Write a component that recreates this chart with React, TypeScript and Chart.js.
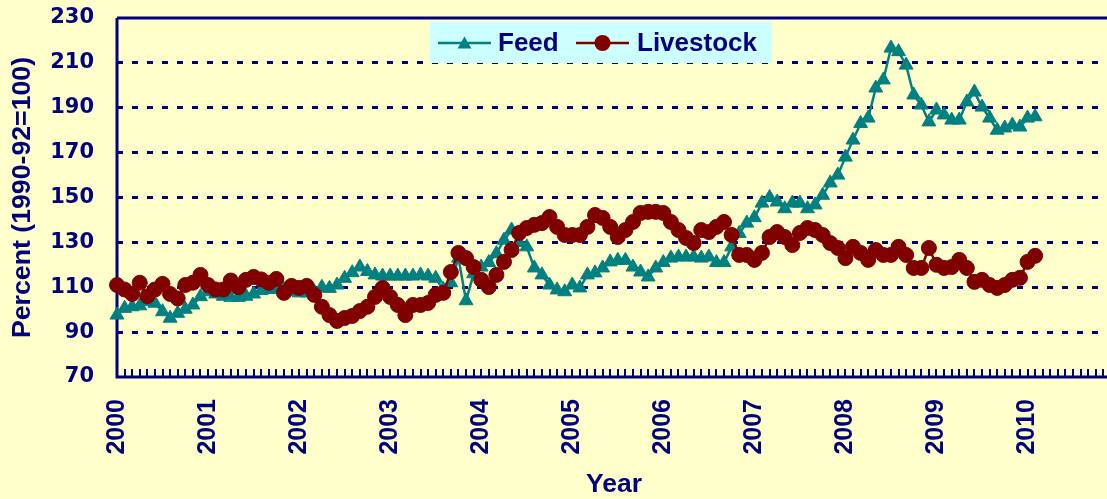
import React, { useEffect, useRef } from 'react';
import { Chart, registerables } from 'chart.js';

Chart.register(...registerables);

const NAVY = '#000080';
const BG = '#FFFFCC';
const LEGEND_BG = '#CCFFFF';
const FEED_COLOR = '#008080';
const LIVESTOCK_COLOR = '#800000';
const ARIAL = '"Liberation Sans", Arial, sans-serif';

const yearLabels = ['2000', '2001', '2002', '2003', '2004', '2005', '2006', '2007', '2008', '2009', '2010'];
const monthNames = ['Jan', 'Feb', 'Mar', 'Apr', 'May', 'Jun', 'Jul', 'Aug', 'Sep', 'Oct', 'Nov', 'Dec'];
const categories: string[] = [];
yearLabels.forEach((y) => monthNames.forEach((m) => categories.push(`${m} ${y}`)));

const feed = [
  97.6, 100.6, 101.3, 101.7, 103.6, 102.9, 99.1, 96.2, 98.4, 100.2, 102.1, 105.8,
  108, 107, 106, 105.5, 105.5, 106, 107, 108.5, 109, 109.5, 109, 108,
  107.5, 107.5, 108, 110, 109.5, 111, 114, 116.5, 119, 117, 115.5, 115,
  115, 115, 115, 115, 115.5, 115, 114, 109, 112, 123, 104, 116,
  119, 121, 125, 131, 135.5, 130, 128, 118.6, 115.5, 111, 108.8, 108,
  111, 109.7, 115.5, 116.4, 118.6, 121.3, 122, 122, 119, 116.8, 114.6, 118.6,
  121, 123, 123.5, 123.5, 123.5, 123, 123.5, 121, 121, 128, 134, 138.6,
  141, 147.5, 150, 148, 145, 147.5, 147.5, 145, 146.7, 151, 156.5, 160,
  168, 175.6, 183, 185.4, 198.8, 202.4, 216.6, 215, 209, 195.7, 191.2, 183.7,
  189, 186.8, 184.5, 184.5, 192.6, 197, 190.3, 185.4, 180, 181, 182.3, 181.4,
  185.4, 186,
];

const livestock = [
  111, 109, 107, 112, 106, 109, 111.5, 107, 105, 111, 112, 115.5,
  111, 109, 109, 113, 110, 113.3, 114.6, 113.5, 112, 113.7, 107.5, 110.6,
  109.7, 110.6, 106.6, 101.3, 97.6, 95, 96.3, 97.2, 99.4, 101.3, 105.7, 109.7,
  105.7, 102.1, 97.6, 102.1, 102.1, 103, 106.6, 107.5, 116.8, 125.3, 123, 119,
  113.3, 110.1, 115.5, 121.3, 126.6, 134.2, 136.4, 137.8, 138.6, 141.3, 136.9, 133.3,
  133.3, 133.3, 136.9, 142.2, 140.9, 136.9, 132.4, 135.5, 139.1, 143.1, 143.6, 143.6,
  143.1, 139.1, 135.5, 132, 129.7, 135.5, 134.6, 136.9, 139.1, 133.3, 124.4, 124.4,
  122.2, 125.3, 132.4, 134.6, 132.4, 128.8, 134.2, 136.4, 135.5, 133.3, 129.7, 127.5,
  123, 128, 125.3, 122.2, 126.6, 124.4, 124.4, 128, 124.4, 118.6, 118.6, 127.5,
  120, 118.6, 119, 122.2, 118.6, 112.4, 113.3, 111, 109.7, 111, 113.3, 114.2,
  121.3, 124,
];

const seriesNames = ['Feed', 'Livestock'];
const Y_MIN = 70;
const Y_MAX = 230;
const CANVAS_W = 1120;

function drawMarker(ctx: CanvasRenderingContext2D, style: string, x: number, y: number, r: number, color: string) {
  ctx.save();
  ctx.fillStyle = color;
  ctx.beginPath();
  if (style === 'triangle') {
    let rad = 0;
    ctx.moveTo(x + Math.sin(rad) * r, y - Math.cos(rad) * r);
    rad += (2 * Math.PI) / 3;
    ctx.lineTo(x + Math.sin(rad) * r, y - Math.cos(rad) * r);
    rad += (2 * Math.PI) / 3;
    ctx.lineTo(x + Math.sin(rad) * r, y - Math.cos(rad) * r);
    ctx.closePath();
  } else {
    ctx.arc(x, y, r, 0, Math.PI * 2);
  }
  ctx.fill();
  ctx.restore();
}

const decorPlugin = {
  id: 'decor',
  beforeDatasetsDraw(chart: any) {
    const { ctx, chartArea: a, scales } = chart;
    const x = scales.x;
    const y = scales.y;
    ctx.save();
    ctx.strokeStyle = NAVY;
    ctx.lineWidth = 2;
    for (let i = 0; i < categories.length; i++) {
      const px = Math.round(x.getPixelForValue(i));
      ctx.beginPath();
      ctx.moveTo(px, a.bottom);
      ctx.lineTo(px, a.bottom - 8);
      ctx.stroke();
    }
    for (const t of y.ticks) {
      const py = Math.round(y.getPixelForValue(t.value));
      ctx.beginPath();
      ctx.moveTo(a.left, py);
      ctx.lineTo(a.left + 6, py);
      ctx.stroke();
    }
    ctx.lineWidth = 3;
    ctx.beginPath();
    ctx.moveTo(a.left, a.top);
    ctx.lineTo(a.left, a.bottom);
    ctx.lineTo(a.right, a.bottom);
    ctx.moveTo(a.left, a.top);
    ctx.lineTo(a.right, a.top);
    ctx.stroke();
    ctx.restore();
  },
  afterDatasetsDraw(chart: any) {
    const { ctx } = chart;
    const ds = chart.data.datasets;
    ctx.save();
    ctx.fillStyle = LEGEND_BG;
    ctx.fillRect(430, 22, 342, 41);
    const cy = 43;
    const items = [
      { lx: 438, tx: 498, ds: ds[0] },
      { lx: 576, tx: 637, ds: ds[1] },
    ];
    ctx.font = `bold 26px ${ARIAL}`;
    ctx.textBaseline = 'middle';
    ctx.textAlign = 'left';
    for (const it of items) {
      ctx.strokeStyle = it.ds.borderColor;
      ctx.lineWidth = 2.5;
      ctx.beginPath();
      ctx.moveTo(it.lx, cy);
      ctx.lineTo(it.lx + 53, cy);
      ctx.stroke();
      drawMarker(ctx, it.ds.pointStyle, it.lx + 26.5, it.ds.pointStyle === 'triangle' ? cy + 1.5 : cy, 8, it.ds.borderColor);
      ctx.fillStyle = NAVY;
      ctx.fillText(it.ds.label, it.tx, cy + 1);
    }
    ctx.restore();
  },
};

export default function App() {
  const canvasRef = useRef<HTMLCanvasElement | null>(null);

  useEffect(() => {
    const canvas = canvasRef.current;
    if (!canvas) return;
    const chart = new Chart(canvas, {
      type: 'line',
      data: {
        labels: categories,
        datasets: [
          {
            label: seriesNames[0],
            data: feed,
            borderColor: FEED_COLOR,
            backgroundColor: FEED_COLOR,
            borderWidth: 2.5,
            pointStyle: 'triangle',
            pointRadius: 8,
            pointBorderWidth: 1,
            pointBackgroundColor: FEED_COLOR,
            pointBorderColor: FEED_COLOR,
            tension: 0,
            order: 2,
          },
          {
            label: seriesNames[1],
            data: livestock,
            borderColor: LIVESTOCK_COLOR,
            backgroundColor: LIVESTOCK_COLOR,
            borderWidth: 2.5,
            pointStyle: 'circle',
            pointRadius: 7.5,
            pointBorderWidth: 1,
            pointBackgroundColor: LIVESTOCK_COLOR,
            pointBorderColor: LIVESTOCK_COLOR,
            tension: 0,
            order: 1,
          },
        ],
      },
      options: {
        responsive: false,
        animation: false,
        layout: { padding: { top: 18, right: 0, bottom: 0, left: 0 } },
        plugins: {
          legend: { display: false },
          tooltip: { enabled: false },
        },
        scales: {
          x: {
            type: 'category',
            offset: false,
            grid: { display: false, drawTicks: false },
            border: { display: false },
            ticks: {
              autoSkip: false,
              maxRotation: 90,
              minRotation: 90,
              padding: 22,
              color: NAVY,
              font: { family: ARIAL, size: 25, weight: 'bold' },
              callback: (_v: any, i: number) => (i % 12 === 0 ? yearLabels[i / 12] : ''),
            },
            title: {
              display: true,
              text: 'Year',
              color: NAVY,
              font: { family: ARIAL, size: 26.5, weight: 'bold', lineHeight: 1 },
              padding: { top: 0, bottom: 1 },
            },
            afterFit: (s: any) => {
              s.height = 122;
              s.paddingLeft = 0;
              s.paddingRight = 0;
              s.paddingTop = 0;
              s.paddingBottom = 0;
            },
          },
          y: {
            min: Y_MIN,
            max: Y_MAX,
            grid: {
              drawTicks: false,
              lineWidth: 3,
              color: (c: any) => {
                const v = c.tick ? c.tick.value : 0;
                return v % 20 === 10 && v > Y_MIN && v < Y_MAX ? NAVY : 'rgba(0,0,0,0)';
              },
            },
            border: { display: false, dash: [6, 9] },
            ticks: {
              stepSize: 10,
              padding: 23,
              color: NAVY,
              font: { family: '"DejaVu Sans", sans-serif', size: 21, weight: 'bold' },
              callback: (v: any) => (Number(v) % 20 === 10 ? String(v) : ''),
            },
            title: {
              display: true,
              text: 'Percent (1990-92=100)',
              color: NAVY,
              font: { family: ARIAL, size: 26.7, weight: 'bold', lineHeight: 1 },
              padding: { top: 9, bottom: 0 },
            },
            afterFit: (s: any) => {
              s.width = 117;
              s.paddingLeft = 0;
              s.paddingRight = 0;
              s.paddingTop = 0;
              s.paddingBottom = 0;
            },
          },
        },
      } as any,
      plugins: [decorPlugin],
    });
    return () => chart.destroy();
  }, []);

  return (
    <div style={{ position: 'fixed', left: 0, top: 0, width: 1107, height: 499, background: BG, overflow: 'hidden' }}>
      <canvas ref={canvasRef} width={CANVAS_W} height={499} style={{ display: 'block', width: CANVAS_W, height: 499 }} />
    </div>
  );
}
